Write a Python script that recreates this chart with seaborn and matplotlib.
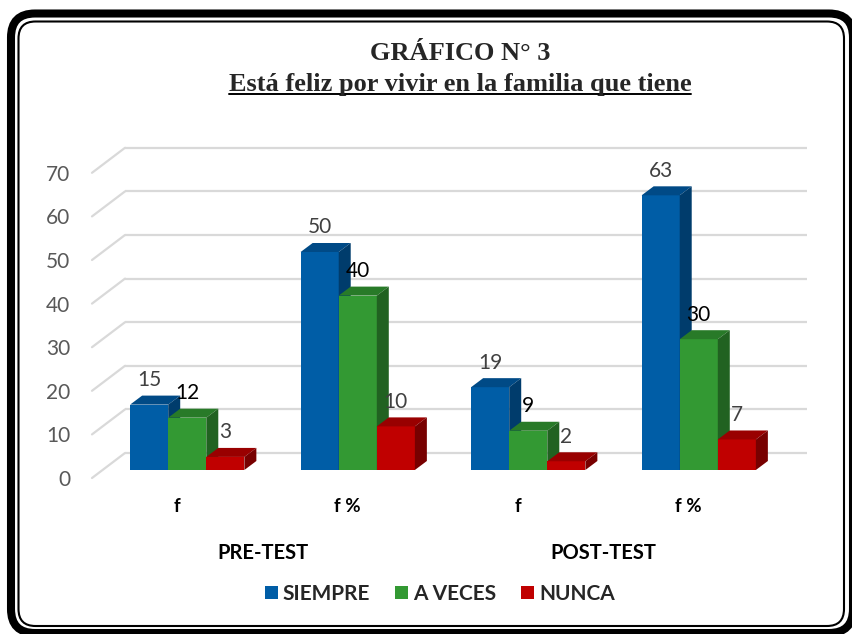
import numpy as np
import pandas as pd
import matplotlib.pyplot as plt
import seaborn as sns
from matplotlib.patches import FancyBboxPatch, Polygon
from matplotlib.lines import Line2D
from matplotlib.transforms import ScaledTranslation, IdentityTransform

# datos del grafico
columnas = ["pre_f", "pre_fp", "post_f", "post_fp"]
etiquetas_x = ["f", "f %", "f", "f %"]
grupos = ["PRE-TEST", "POST-TEST"]
series = ["SIEMPRE", "A VECES", "NUNCA"]
siempre = [15, 50, 19, 63]
a_veces = [12, 40, 9, 30]
nunca = [3, 10, 2, 7]
marcas_y = [0, 10, 20, 30, 40, 50, 60, 70]

colores = ["#005DA6", "#339933", "#C00000"]
color_techo = ["#004A86", "#287A28", "#990000"]
color_lado = ["#003C6C", "#216221", "#780000"]
color_etiqueta = ["#404040", "#000000", "#404040"]

df = pd.DataFrame({
    "columna": columnas * 3,
    "serie": np.repeat(series, len(columnas)),
    "valor": siempre + a_veces + nunca,
})

sns.set_theme(style="white")
plt.rcParams["font.family"] = ["Lato", "DejaVu Sans"]

W, H = 853, 634
fig = plt.figure(figsize=(W / 100, H / 100), dpi=100)
fig.patch.set_facecolor("white")
ax = fig.add_axes([102 / W, 1 - 470 / H, 682 / W, 305.2 / H])
ax.patch.set_alpha(0)

sns.barplot(data=df, x="columna", y="valor", hue="serie", order=columnas,
            hue_order=series, palette=colores, saturation=1, width=0.67,
            edgecolor="none", legend=True, ax=ax)
ax.set_xlim(-0.5, 3.5)
ax.set_ylim(0, 70)
sns.despine(ax=ax, left=True, bottom=True)
ax.set_xlabel("")
ax.set_ylabel("")

# pixeles por unidad
p0 = ax.transData.transform((0, 0))
p1 = ax.transData.transform((1, 1))
sx, sy = p1[0] - p0[0], p1[1] - p0[1]

# pared del fondo: lineas de cuadricula en perspectiva
for v in marcas_y:
    yb = v + 17 / sy
    ax.plot([-0.5 + 23 / sx, 3.5 + 23 / sx], [yb, yb], color="#D9D9D9",
            lw=1.6, zorder=0.5, clip_on=False, solid_capstyle="butt")
    ax.plot([-0.5 - 10 / sx, -0.5 + 23 / sx], [v - 8 / sy, yb], color="#D9D9D9",
            lw=1.6, zorder=0.5, clip_on=False)

# barras con profundidad
ddx, ddy = 12 / sx, 9 / sy
valores = [siempre, a_veces, nunca]
for i, cont in enumerate(ax.containers):
    for rect in cont:
        rect.set_zorder(2 + i * 0.1)
        x0, w, h = rect.get_x(), rect.get_width(), rect.get_height()
        techo = Polygon([(x0, h), (x0 + w, h), (x0 + w + ddx, h + ddy), (x0 + ddx, h + ddy)],
                        closed=True, facecolor=color_techo[i], edgecolor="none",
                        zorder=2.05 + i * 0.1, clip_on=False)
        lado = Polygon([(x0 + w, 0), (x0 + w + ddx, ddy), (x0 + w + ddx, h + ddy), (x0 + w, h)],
                       closed=True, facecolor=color_lado[i], edgecolor="none",
                       zorder=2.05 + i * 0.1, clip_on=False)
        ax.add_patch(techo)
        ax.add_patch(lado)
    ax.bar_label(cont, labels=[str(v) for v in valores[i]], padding=10.5,
                 fontsize=15, color=color_etiqueta[i], zorder=3)

# ejes
ax.set_yticks(marcas_y)
ax.tick_params(axis="y", length=0, pad=23, labelsize=15, labelcolor="#595959")
ax.set_xticks(range(len(columnas)))
ax.set_xticklabels(etiquetas_x, fontweight="bold", fontsize=13.5, color="black")
ax.tick_params(axis="x", length=0, pad=20)
for lab in ax.get_yticklabels():
    lab.set_transform(lab.get_transform() + ScaledTranslation(0, -0.08, fig.dpi_scale_trans))
for lab in ax.get_xticklabels():
    lab.set_transform(lab.get_transform() + ScaledTranslation(-0.10, 0, fig.dpi_scale_trans))

for k, g in enumerate(grupos):
    ax.annotate(g, xy=(2 * k + 0.5, 0), xycoords="data", xytext=(-10, -83),
                textcoords="offset pixels", ha="center", va="center",
                fontsize=14.5, fontweight="bold", color="black")

sns.move_legend(ax, "center", bbox_to_anchor=(440 / W, 1 - 594 / H),
                bbox_transform=fig.transFigure, ncol=3, frameon=False, title=None,
                handlelength=0.62, handleheight=0.62, handletextpad=0.25,
                columnspacing=1.2, prop={"weight": "bold", "size": 15})

# titulo
fig.text(460 / W, 1 - 53 / H, "GRÁFICO N° 3", ha="center", va="center",
         fontfamily="Liberation Serif", fontweight="bold", fontsize=19)
sub = fig.text(460 / W, 1 - 85 / H, "Está feliz por vivir en la familia que tiene",
               ha="center", va="center", fontfamily="Liberation Serif",
               fontweight="bold", fontsize=19)
fig.canvas.draw()
bb = sub.get_window_extent()
fig.add_artist(Line2D([bb.x0, bb.x1], [bb.y0 + 3, bb.y0 + 3], color="black",
                      lw=1.4, transform=IdentityTransform()))

# marco doble redondeado
fig.add_artist(FancyBboxPatch((11, 1), 842, 619.5, boxstyle="round,pad=0,rounding_size=24",
                              facecolor="none", edgecolor="black", lw=5.8,
                              transform=IdentityTransform()))
fig.add_artist(FancyBboxPatch((18.5, 8), 825.5, 604.5, boxstyle="round,pad=0,rounding_size=17",
                              facecolor="none", edgecolor="black", lw=1.5,
                              transform=IdentityTransform()))

fig.savefig("out.png", dpi=100)
